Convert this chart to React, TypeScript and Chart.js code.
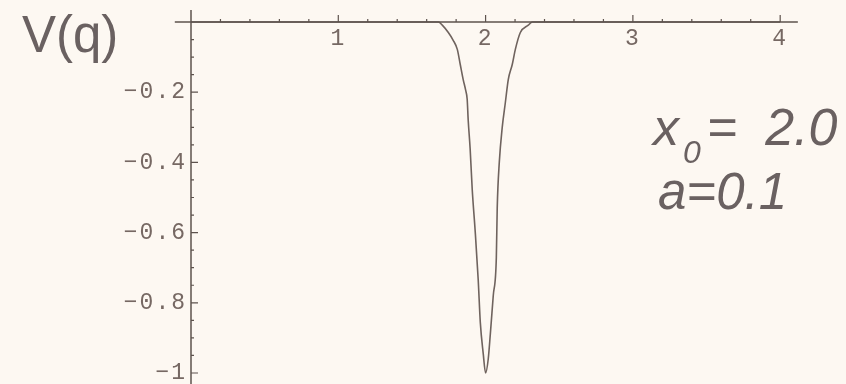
import React, { useEffect, useRef } from "react";
import { Chart, registerables } from "chart.js";

Chart.register(...registerables);

// Curve V(q)
const qValues = [
  0, 1.68, 1.706, 1.747, 1.78, 1.808, 1.828, 1.848, 1.865, 1.875, 1.882, 1.895, 1.909, 1.93, 1.95,
  1.964, 1.984, 2.0, 2.018, 2.032, 2.052, 2.073, 2.079, 2.093, 2.113, 2.134, 2.154, 2.181, 2.202,
  2.236, 2.29, 2.317, 4,
];
const vValues = [
  0, 0, -0.009, -0.03, -0.052, -0.078, -0.121, -0.164, -0.195, -0.22, -0.28, -0.36, -0.475, -0.6,
  -0.735, -0.855, -0.945, -1.0, -0.96, -0.89, -0.78, -0.67, -0.53, -0.4, -0.3, -0.23, -0.164, -0.121,
  -0.078, -0.03, -0.009, 0, 0,
];

// Axes
const xRange = [0, 4.121];
const yRange = [-1.0313, 0.0342];
const xAxisExtent = [-0.11, 4.12];
const yAxisExtent = [0.0342, -1.0313];
const xMajorTicks = [1, 2, 3, 4];
const xMinorTicks = [
  0.2, 0.4, 0.6, 0.8, 1.2, 1.4, 1.6, 1.8, 2.2, 2.4, 2.6, 2.8, 3.2, 3.4, 3.6, 3.8,
];
const yMajorTicks = [-0.2, -0.4, -0.6, -0.8, -1];
const yMinorTicks = [
  -0.05, -0.1, -0.15, -0.25, -0.3, -0.35, -0.45, -0.5, -0.55, -0.65, -0.7, -0.75, -0.85, -0.9,
  -0.95,
];

const BG = "#fdf8f2";
const AXIS_COLOR = "#5e534e";
const CURVE_COLOR = "#6f635e";
const LABEL_COLOR = "#766863";
const TEXT_COLOR = "#6a6161";

const axesPlugin = {
  id: "mmaAxes",
  beforeDraw(chart: any) {
    try {
      chart.ctx.letterSpacing = "2px";
    } catch (e) {}
  },
  afterDatasetsDraw(chart: any) {
    const { ctx } = chart;
    const xs = chart.scales.x;
    const ys = chart.scales.y;
    const x0 = xs.getPixelForValue(0);
    const y0 = ys.getPixelForValue(0);
    ctx.save();
    ctx.strokeStyle = AXIS_COLOR;
    ctx.lineWidth = 1.5;
    ctx.beginPath();
    ctx.moveTo(xs.getPixelForValue(xAxisExtent[0]), y0);
    ctx.lineTo(xs.getPixelForValue(xAxisExtent[1]), y0);
    ctx.moveTo(x0, ys.getPixelForValue(yAxisExtent[0]));
    ctx.lineTo(x0, ys.getPixelForValue(yAxisExtent[1]));
    ctx.stroke();
    ctx.lineWidth = 1.2;
    ctx.beginPath();
    for (const v of xMajorTicks) {
      const p = xs.getPixelForValue(v);
      ctx.moveTo(p, y0);
      ctx.lineTo(p, y0 - 7);
    }
    for (const v of xMinorTicks) {
      const p = xs.getPixelForValue(v);
      ctx.moveTo(p, y0);
      ctx.lineTo(p, y0 - 3);
    }
    for (const v of yMajorTicks) {
      const p = ys.getPixelForValue(v);
      ctx.moveTo(x0, p);
      ctx.lineTo(x0 + 7, p);
    }
    for (const v of yMinorTicks) {
      const p = ys.getPixelForValue(v);
      ctx.moveTo(x0, p);
      ctx.lineTo(x0 + 3, p);
    }
    ctx.stroke();
    ctx.restore();
  },
  afterDraw(chart: any) {
    try {
      chart.ctx.letterSpacing = "0px";
    } catch (e) {}
  },
};

function zeroPadding(s: any) {
  s.paddingTop = 0;
  s.paddingBottom = 0;
  s.paddingLeft = 0;
  s.paddingRight = 0;
}

export default function App() {
  const canvasRef = useRef<HTMLCanvasElement | null>(null);

  useEffect(() => {
    const canvas = canvasRef.current;
    if (!canvas) return;
    const tickFont = { family: "'Liberation Mono', 'DejaVu Sans Mono', monospace", size: 23, lineHeight: 1 };
    const chart = new Chart(canvas, {
      type: "line",
      data: {
        datasets: [
          {
            data: qValues.map((q, i) => ({ x: q, y: vValues[i] })),
            borderColor: CURVE_COLOR,
            borderWidth: 1.6,
            pointRadius: 0,
            cubicInterpolationMode: "monotone",
            fill: false,
          },
        ],
      },
      options: {
        responsive: false,
        maintainAspectRatio: false,
        animation: false,
        layout: { padding: { left: 0, right: 48, top: 10, bottom: 0 } },
        plugins: { legend: { display: false }, tooltip: { enabled: false } },
        scales: {
          x: {
            type: "linear",
            position: { y: 0 } as any,
            min: xRange[0],
            max: xRange[1],
            grid: { display: false, drawTicks: false },
            border: { display: false },
            afterFit: zeroPadding,
            afterBuildTicks: (s: any) => {
              s.ticks = xMajorTicks.map((v) => ({ value: v }));
            },
            ticks: {
              font: tickFont,
              color: LABEL_COLOR,
              padding: 5,
              maxRotation: 0,
              autoSkip: false,
              callback: (v: any) => String(v),
            },
          },
          y: {
            type: "linear",
            position: "left",
            min: yRange[0],
            max: yRange[1],
            grid: { display: false, drawTicks: false },
            border: { display: false },
            afterFit: (s: any) => {
              s.width = 191;
              zeroPadding(s);
            },
            afterBuildTicks: (s: any) => {
              s.ticks = yMajorTicks.map((v) => ({ value: v }));
            },
            ticks: {
              font: tickFont,
              color: LABEL_COLOR,
              padding: 4,
              autoSkip: false,
              callback: (v: any) => String(v).replace("-", "\u2212"),
            },
          },
        },
      },
      plugins: [axesPlugin],
    } as any);
    return () => chart.destroy();
  }, []);

  const sans = "'Liberation Sans', Arial, sans-serif";
  return (
    <div
      style={{
        position: "fixed",
        left: 0,
        top: 0,
        width: 846,
        height: 384,
        background: BG,
        overflow: "hidden",
      }}
    >
      <canvas ref={canvasRef} width={846} height={384} style={{ position: "absolute", left: 0, top: 0 }} />
      <div
        style={{
          position: "absolute",
          left: 22,
          top: 9,
          fontFamily: sans,
          fontSize: 51,
          lineHeight: "52px",
          color: TEXT_COLOR,
          whiteSpace: "nowrap",
        }}
      >
        V(q)
      </div>
      <div
        style={{
          position: "absolute",
          left: 653,
          top: 101,
          fontFamily: sans,
          fontStyle: "italic",
          fontSize: 52,
          lineHeight: "52px",
          color: TEXT_COLOR,
          whiteSpace: "nowrap",
        }}
      >
        x
        <span style={{ fontSize: 32, position: "relative", top: 18, marginLeft: 4 }}>0</span>
        <span style={{ marginLeft: 6 }}>=</span>
        <span style={{ marginLeft: 28 }}>2.0</span>
      </div>
      <div
        style={{
          position: "absolute",
          left: 658,
          top: 166,
          fontFamily: sans,
          fontStyle: "italic",
          fontSize: 51,
          lineHeight: "52px",
          color: TEXT_COLOR,
          whiteSpace: "nowrap",
        }}
      >
        a=0.1
      </div>
    </div>
  );
}
